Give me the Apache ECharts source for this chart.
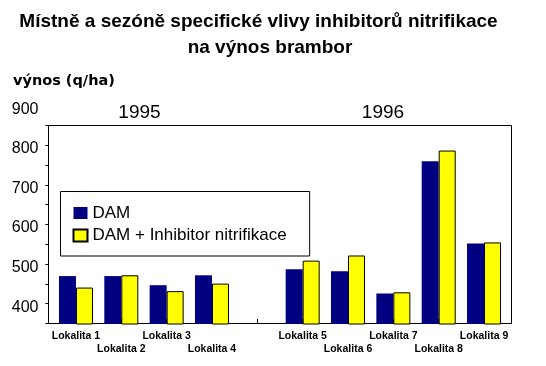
<!DOCTYPE html>
<html>
<head>
<meta charset="utf-8">
<script src="https://cdn.jsdelivr.net/npm/echarts@6/dist/echarts.min.js"></script>
<style>
html,body{margin:0;padding:0;background:#fff;}
#chart{width:546px;height:366px;}
</style>
</head>
<body>
<div id="chart"></div>
<script>
const categories = ['Lokalita 1','Lokalita 2','Lokalita 3','Lokalita 4','','Lokalita 5','Lokalita 6','Lokalita 7','Lokalita 8','Lokalita 9'];
const damValues = [471, 471, 448, 473, null, 488, 483, 427, 761, 553];
const inhibitorValues = [442, 473, 433, 452, null, 510, 523, 430, 788, 556];
const seriesNames = ['DAM', 'DAM + Inhibitor nitrifikace'];
const yTickLabels = [400, 500, 600, 700, 800, 900];
const yearLabels = ['1995', '1996'];
const titleLines = ['Místně a sezóně specifické vlivy inhibitorů nitrifikace', 'na výnos brambor'];
const yAxisTitle = 'výnos (q/ha)';

const FF = '"Liberation Sans", Arial, sans-serif';
const chart = echarts.init(document.getElementById('chart'), null, {renderer: 'canvas'});

chart.setOption({
  animation: false,
  backgroundColor: '#fff',
  graphic: [
    {type: 'text', x: 258.5, y: 22, style: {text: titleLines[0], font: 'bold 19px ' + FF, fill: '#000', align: 'center', verticalAlign: 'middle'}},
    {type: 'text', x: 270, y: 47.5, style: {text: titleLines[1], font: 'bold 19px ' + FF, fill: '#000', align: 'center', verticalAlign: 'middle'}},
    {type: 'text', x: 13, y: 81, style: {text: yAxisTitle, font: 'bold 14.5px "DejaVu Sans"', fill: '#000', align: 'left', verticalAlign: 'middle'}},
    {type: 'text', x: 139.5, y: 113, style: {text: yearLabels[0], font: '19px ' + FF, fill: '#000', align: 'center', verticalAlign: 'middle'}},
    {type: 'text', x: 383, y: 113, style: {text: yearLabels[1], font: '19px ' + FF, fill: '#000', align: 'center', verticalAlign: 'middle'}}
  ],
  legend: {
    orient: 'vertical',
    left: 60.5, top: 191.5,
    padding: [13, 23, 12, 12],
    itemWidth: 14, itemHeight: 12, itemGap: 5.5,
    icon: 'rect',
    borderColor: '#000', borderWidth: 1, borderRadius: 0, backgroundColor: '#fff',
    selectedMode: false,
    textStyle: {fontSize: 17, lineHeight: 17, color: '#000', fontFamily: FF},
    data: seriesNames
  },
  grid: [
    {left: 53.3, right: 39.3, top: 106.2, bottom: 42},
    {left: 48.5, right: 34.5, top: 125.5, bottom: 42.5, show: true, borderColor: '#000', borderWidth: 1, backgroundColor: 'transparent'}
  ],
  xAxis: [
    {
      gridIndex: 0, type: 'category', data: categories,
      axisLine: {show: false},
      axisTick: {show: true, inside: true, length: 5, alignWithLabel: true, interval: 0, lineStyle: {color: '#000'}},
      axisLabel: {
        interval: 0, margin: 6, fontSize: 10.5, fontWeight: 'bold', color: '#000', fontFamily: FF, lineHeight: 13,
        formatter: function (v) {
          if (!v) return '';
          const n = parseInt(v.split(' ')[1], 10);
          return n % 2 === 0 ? '\n' + v : v;
        }
      }
    },
    {gridIndex: 1, type: 'category', data: categories, show: false}
  ],
  yAxis: [
    {
      gridIndex: 0, type: 'value', min: 350, max: 900, interval: 50, offset: 4.8,
      axisLine: {show: false}, axisTick: {show: false}, splitLine: {show: false},
      axisLabel: {
        margin: 10, fontSize: 16, color: '#000', fontFamily: FF, verticalAlign: 'top', lineHeight: 6,
        formatter: function (v) { return yTickLabels.indexOf(v) >= 0 ? String(v) : ''; }
      }
    },
    {
      gridIndex: 1, type: 'value', min: 350, max: 850, interval: 50,
      axisLine: {show: true, lineStyle: {color: '#000'}},
      axisTick: {show: true, length: 3, lineStyle: {color: '#000'}},
      axisLabel: {show: false}, splitLine: {show: false}
    }
  ],
  series: [
    {type: 'bar', name: seriesNames[0], xAxisIndex: 0, yAxisIndex: 0, data: damValues, barWidth: 17, barGap: '0%',
     itemStyle: {color: '#000080'}},
    {type: 'bar', name: seriesNames[1], xAxisIndex: 0, yAxisIndex: 0, data: inhibitorValues, barWidth: 17, barGap: '0%',
     itemStyle: {color: '#ffff00', borderColor: '#000', borderWidth: 1}}
  ]
});
</script>
</body>
</html>
